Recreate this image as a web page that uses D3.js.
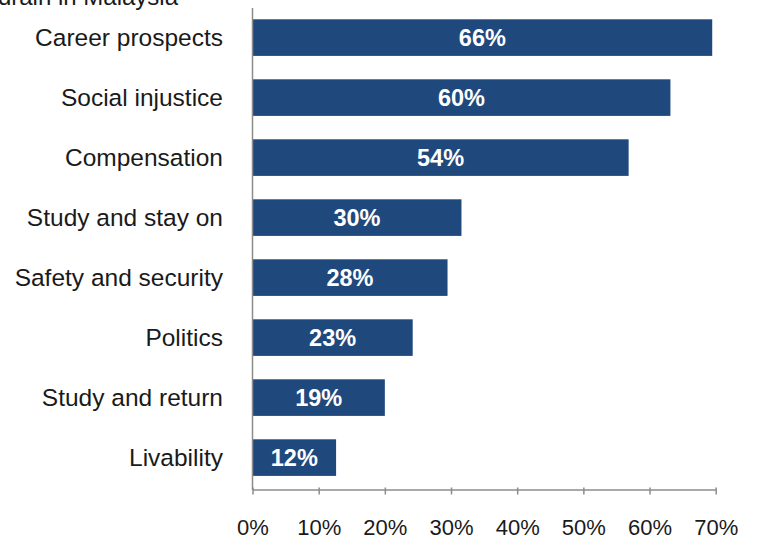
<!DOCTYPE html>
<html>
<head>
<meta charset="utf-8">
<script src="https://cdn.jsdelivr.net/npm/d3@7"></script>
<style>
  body { margin: 0; background: #fff; }
  svg { display: block; font-family: "Liberation Sans", Arial, sans-serif; }
</style>
</head>
<body>
<div id="chart"></div>
<script>
// categories and values, top to bottom
var categories = ["Career prospects", "Social injustice", "Compensation", "Study and stay on",
                  "Safety and security", "Politics", "Study and return", "Livability"];
var values = [0.66, 0.60, 0.54, 0.30, 0.28, 0.23, 0.19, 0.12];
var ticks = [0, 0.1, 0.2, 0.3, 0.4, 0.5, 0.6, 0.7];
var title = "Reasons for brain drain in Malaysia";

var width = 766, height = 543;
var plot = {left: 252.5, right: 715.7, top: 7.6, bottom: 487.6};

var svg = d3.select("#chart").append("svg")
    .attr("width", width)
    .attr("height", height);

// axis scale
var x = d3.scaleLinear().domain([0, 0.7]).range([plot.left, plot.right]);
// bars in the source are drawn slightly longer than the axis says
var xBar = x.copy().domain([0, 0.665]);

var y = d3.scaleBand()
    .domain(categories)
    .range([plot.top, plot.bottom])
    .paddingInner(0.39)
    .paddingOuter(0.195);

// clipped title at the very top
svg.append("text")
    .attr("x", 178)
    .attr("y", 5)
    .attr("text-anchor", "end")
    .style("font-size", "24px")
    .style("fill", "#1a1a1a")
    .text(title);

var rows = categories.map(function(c, i) { return {name: c, value: values[i]}; });

// bars
svg.append("g").selectAll("rect")
    .data(rows)
  .enter().append("rect")
    .attr("x", x(0))
    .attr("y", function(d) { return y(d.name); })
    .attr("width", function(d) { return xBar(d.value) - x(0); })
    .attr("height", y.bandwidth())
    .attr("fill", "#1f497d");

// value labels inside the bars
svg.append("g").selectAll("text")
    .data(rows)
  .enter().append("text")
    .attr("x", function(d) { return (x(0) + xBar(d.value)) / 2; })
    .attr("y", function(d) { return y(d.name) + y.bandwidth() / 2; })
    .attr("dy", "0.36em")
    .attr("text-anchor", "middle")
    .style("font-size", "23.5px")
    .style("font-weight", "bold")
    .style("fill", "#fff")
    .text(function(d) { return d3.format(".0%")(d.value); });

// category labels
svg.append("g").selectAll("text")
    .data(rows)
  .enter().append("text")
    .attr("x", 223)
    .attr("y", function(d) { return y(d.name) + y.bandwidth() / 2; })
    .attr("dy", "0.36em")
    .attr("text-anchor", "end")
    .style("font-size", "24.5px")
    .style("fill", "#1a1a1a")
    .text(function(d) { return d.name; });

// vertical axis line
svg.append("line")
    .attr("x1", x(0)).attr("x2", x(0))
    .attr("y1", 8).attr("y2", 490)
    .attr("stroke", "#8c8c8c")
    .attr("stroke-width", 1.5);

// bottom axis
var xAxis = d3.axisBottom(x)
    .tickValues(ticks)
    .tickFormat(d3.format(".0%"))
    .tickSizeInner(5)
    .tickSizeOuter(0)
    .tickPadding(25);

var gx = svg.append("g")
    .attr("transform", "translate(0,489.5)")
    .call(xAxis);

gx.select(".domain").attr("stroke", "#8c8c8c").attr("stroke-width", 1.5);
gx.selectAll(".tick line").attr("stroke", "#8c8c8c").attr("stroke-width", 1.5).attr("y1", -2);
gx.selectAll(".tick text")
    .style("font-size", "22px")
    .style("font-family", "'Liberation Sans', Arial, sans-serif")
    .style("fill", "#1a1a1a");
</script>
</body>
</html>
